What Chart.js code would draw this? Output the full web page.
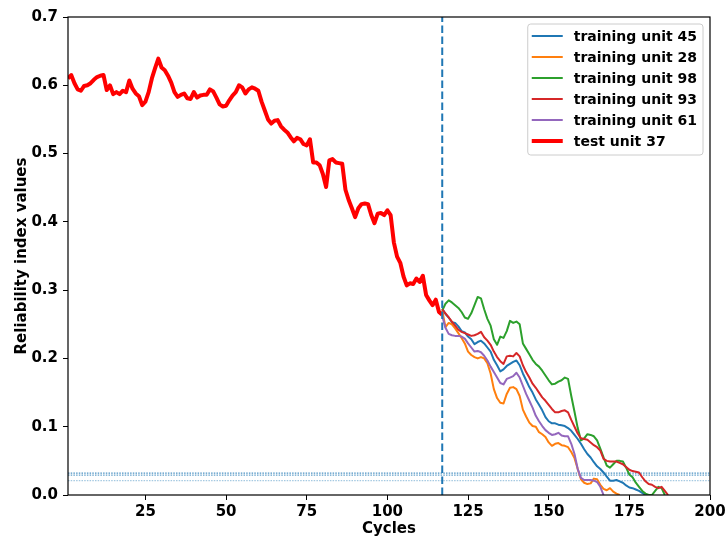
<!DOCTYPE html>
<html><head><meta charset="utf-8">
<script src="https://cdn.jsdelivr.net/npm/chart.js@4.4.0/dist/chart.umd.min.js"></script>
<style>html,body{margin:0;padding:0;background:#fff}</style>
</head><body>
<canvas id="c" width="726" height="538" style="width:726px;height:538px;display:block"></canvas>
<script>
// ---------- data ----------
const xTickValues = [25, 50, 75, 100, 125, 150, 175, 200];
const xMin = 1, xMax = 200;
const yMin = 0, yMax = 0.7;

const testStart = 1;
const testUnit37 = [
  0.610,0.615,0.603,0.594,0.592,0.599,0.600,0.603,0.608,0.612,
  0.614,0.615,0.593,0.600,0.587,0.590,0.587,0.592,0.590,0.607,
  0.595,0.588,0.584,0.571,0.576,0.590,0.610,0.625,0.639,0.626,
  0.622,0.614,0.604,0.590,0.583,0.586,0.588,0.581,0.580,0.590,
  0.582,0.585,0.586,0.586,0.594,0.591,0.582,0.572,0.569,0.570,
  0.578,0.585,0.590,0.600,0.597,0.588,0.594,0.597,0.595,0.592,
  0.576,0.563,0.550,0.544,0.548,0.549,0.540,0.535,0.531,0.524,
  0.518,0.523,0.521,0.514,0.512,0.521,0.487,0.487,0.483,0.470,
  0.451,0.490,0.492,0.487,0.486,0.485,0.447,0.432,0.420,0.407,
  0.420,0.426,0.427,0.426,0.410,0.398,0.412,0.413,0.410,0.417,
  0.410,0.370,0.349,0.340,0.320,0.307,0.310,0.309,0.317,0.312,
  0.321,0.293,0.285,0.278,0.286,0.268,0.264
];

const trainStart = 117;
const unit45 = [
  0.273,0.265,0.260,0.253,0.252,0.247,0.240,0.238,0.232,0.228,
  0.221,0.224,0.226,0.222,0.216,0.210,0.198,0.190,0.181,0.184,
  0.189,0.192,0.195,0.197,0.190,0.178,0.168,0.158,0.150,0.140,
  0.132,0.124,0.114,0.108,0.105,0.105,0.103,0.102,0.101,0.098,
  0.094,0.088,0.082,0.075,0.067,0.060,0.055,0.048,0.042,0.038,
  0.033,0.027,0.021,0.021,0.022,0.020,0.018,0.014,0.011,0.010,
  0.008,0.006,0.003,0.000
];
const unit28 = [
  0.270,0.246,0.252,0.250,0.244,0.237,0.230,0.222,0.210,0.205,
  0.202,0.200,0.202,0.200,0.193,0.178,0.155,0.142,0.135,0.134,
  0.148,0.157,0.158,0.155,0.145,0.125,0.115,0.106,0.101,0.100,
  0.092,0.089,0.085,0.077,0.072,0.075,0.076,0.073,0.072,0.070,
  0.063,0.054,0.038,0.023,0.018,0.016,0.017,0.024,0.023,0.015,
  0.009,0.007,0.010,0.005,0.002,0.000
];
const unit98 = [
  0.270,0.280,0.285,0.282,0.278,0.274,0.268,0.260,0.258,0.266,
  0.278,0.290,0.288,0.272,0.258,0.248,0.228,0.220,0.232,0.230,
  0.240,0.255,0.252,0.254,0.250,0.222,0.214,0.206,0.198,0.192,
  0.188,0.182,0.175,0.168,0.162,0.163,0.166,0.168,0.172,0.170,
  0.145,0.122,0.098,0.080,0.083,0.089,0.088,0.086,0.080,0.068,
  0.055,0.043,0.040,0.045,0.050,0.050,0.049,0.040,0.030,0.026,
  0.018,0.012,0.006,0.002,0.000,0.000,0.006,0.012,0.010,0.000
];
const unit93 = [
  0.272,0.266,0.260,0.254,0.248,0.242,0.239,0.237,0.235,0.233,
  0.234,0.236,0.239,0.231,0.226,0.220,0.210,0.202,0.196,0.192,
  0.203,0.204,0.203,0.208,0.203,0.190,0.180,0.172,0.163,0.157,
  0.150,0.143,0.138,0.132,0.126,0.121,0.121,0.123,0.124,0.121,
  0.110,0.100,0.090,0.083,0.082,0.081,0.077,0.073,0.070,0.065,
  0.053,0.050,0.049,0.049,0.049,0.047,0.045,0.041,0.037,0.035,
  0.034,0.033,0.026,0.020,0.016,0.015,0.012,0.010,0.012,0.006,
  0.000
];
const unit61 = [
  0.262,0.245,0.236,0.234,0.233,0.233,0.232,0.229,0.222,0.216,
  0.210,0.211,0.209,0.204,0.197,0.188,0.180,0.172,0.164,0.162,
  0.170,0.172,0.174,0.179,0.172,0.160,0.148,0.138,0.128,0.116,
  0.108,0.101,0.095,0.091,0.088,0.089,0.091,0.087,0.086,0.086,
  0.075,0.060,0.038,0.025,0.022,0.022,0.022,0.021,0.019,0.012,
  0.000
];
const splitCycle = 117;
const thresholds = [0.032, 0.029, 0.021];
const thresholdAlphas = [0.8, 0.7, 0.4];

const seriesLabels = ['training unit 45','training unit 28','training unit 98','training unit 93','training unit 61','test unit 37'];
const seriesColors = ['#1f77b4','#ff7f0e','#2ca02c','#d62728','#9467bd','#ff0000'];

// ---------- build ----------
const toPts = (start, arr) => arr.map((v, i) => ({x: start + i, y: v}));
const trainSeries = [unit45, unit28, unit98, unit93, unit61];

const datasets = [];
trainSeries.forEach((arr, i) => {
  datasets.push({label: seriesLabels[i], data: toPts(trainStart, arr), borderColor: seriesColors[i],
    borderWidth: 2, legend: true, order: 5 - i + 2});
});
datasets.push({label: seriesLabels[5], data: toPts(testStart, testUnit37), borderColor: seriesColors[5],
  borderWidth: 4, legend: true, order: 1});
datasets.push({label: 'split', data: [{x: splitCycle, y: yMin}, {x: splitCycle, y: yMax}], borderColor: '#1f77b4',
  borderWidth: 2, borderDash: [7.5, 3.5], order: 0});
thresholds.forEach((t, i) => {
  datasets.push({label: 'thr' + i, data: [{x: xMin, y: t}, {x: xMax, y: t}],
    borderColor: 'rgba(31,119,180,' + thresholdAlphas[i] + ')', borderWidth: 1.3, borderDash: [1.5, 1.2], order: 10});
});
datasets.forEach(d => { d.pointRadius = 0; d.tension = 0; d.fill = false; d.clip = 0;
  d.borderJoinStyle = 'round'; d.borderCapStyle = 'butt'; });

const FONT = 'DejaVu Sans';

const framePlugin = {
  id: 'frame',
  afterDatasetsDraw(chart) {
    const {ctx, chartArea: a} = chart;
    ctx.save();
    ctx.strokeStyle = '#000'; ctx.lineWidth = 1.2;
    ctx.strokeRect(a.left, a.top, a.right - a.left, a.bottom - a.top);
    ctx.restore();
  }
};

const legendPlugin = {
  id: 'customLegend',
  afterDraw(chart) {
    const {ctx, chartArea: a} = chart;
    const items = chart.data.datasets.filter(d => d.legend);
    ctx.save();
    ctx.font = 'bold 14px "' + FONT + '"';
    let maxW = 0;
    items.forEach(d => { maxW = Math.max(maxW, ctx.measureText(d.label).width); });
    const rowH = 21, lineLen = 31, padL = 4, gap = 11, padR = 6;
    const w = padL + lineLen + gap + maxW + padR;
    const h = items.length * rowH + 5;
    const right = a.right - 7, top = a.top + 7;
    const left = right - w;
    const r = 3;
    ctx.beginPath();
    ctx.moveTo(left + r, top); ctx.lineTo(right - r, top); ctx.quadraticCurveTo(right, top, right, top + r);
    ctx.lineTo(right, top + h - r); ctx.quadraticCurveTo(right, top + h, right - r, top + h);
    ctx.lineTo(left + r, top + h); ctx.quadraticCurveTo(left, top + h, left, top + h - r);
    ctx.lineTo(left, top + r); ctx.quadraticCurveTo(left, top, left + r, top);
    ctx.closePath();
    ctx.fillStyle = 'rgba(255,255,255,0.8)'; ctx.fill();
    ctx.strokeStyle = '#cccccc'; ctx.lineWidth = 1; ctx.stroke();
    items.forEach((d, i) => {
      const cy = top + 12 + i * rowH;
      ctx.beginPath();
      ctx.moveTo(left + padL, cy); ctx.lineTo(left + padL + lineLen, cy);
      ctx.strokeStyle = d.borderColor; ctx.lineWidth = d.borderWidth; ctx.lineCap = 'butt';
      ctx.stroke();
      ctx.fillStyle = '#000'; ctx.textBaseline = 'middle'; ctx.textAlign = 'left';
      ctx.fillText(d.label, left + padL + lineLen + gap, cy + 1);
    });
    ctx.restore();
  }
};

new Chart(document.getElementById('c'), {
  type: 'line',
  data: {datasets},
  options: {
    responsive: false, animation: false, devicePixelRatio: 1,
    layout: {padding: {top: 17, right: 16, left: 0, bottom: 0}},
    plugins: {legend: {display: false}, tooltip: {enabled: false}},
    scales: {
      x: {
        type: 'linear', min: xMin, max: xMax,
        afterBuildTicks: s => { s.ticks = xTickValues.map(v => ({value: v})); },
        afterFit: s => { s.height = 43; s.paddingLeft = 0; s.paddingRight = 0; },
        grid: {drawOnChartArea: false, drawTicks: true, tickLength: 5, tickColor: '#000', tickWidth: 1},
        border: {display: false},
        ticks: {color: '#000', font: {family: FONT, size: 15, weight: 'bold'}, padding: 3, maxRotation: 0,
          callback: v => String(v)},
        title: {display: true, text: 'Cycles', color: '#000', font: {family: FONT, size: 15, weight: 'bold'},
          padding: {top: 0, bottom: 0}}
      },
      y: {
        min: yMin, max: yMax,
        afterFit: s => { s.width = 68; s.paddingTop = 0; s.paddingBottom = 0; },
        grid: {drawOnChartArea: false, drawTicks: true, tickLength: 5, tickColor: '#000', tickWidth: 1},
        border: {display: false},
        ticks: {stepSize: 0.1, color: '#000', font: {family: FONT, size: 15, weight: 'bold'}, padding: 5,
          callback: v => Number(v).toFixed(1)},
        title: {display: true, text: 'Reliability index values', color: '#000',
          font: {family: FONT, size: 15, weight: 'bold'}, padding: {top: 13, bottom: 0}}
      }
    }
  },
  plugins: [framePlugin, legendPlugin]
});
</script>
</body></html>
